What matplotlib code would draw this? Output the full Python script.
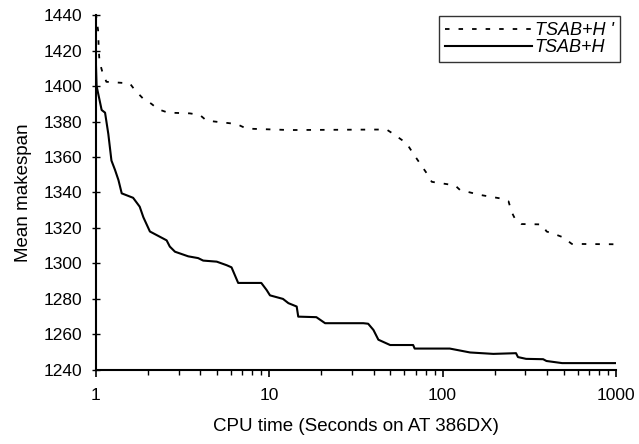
# CURVAS DE CONVERGENCIA: MEAN MAKESPAN VS CPU TIME
# DOS VARIANTES: TSAB+H' (PUNTEADA) Y TSAB+H (CONTINUA)

import numpy as np
import matplotlib.pyplot as plt

plt.rcParams['font.family'] = ['Liberation Sans', 'DejaVu Sans']

# DATOS

t_h = np.array([
    1.0, 1.01, 1.08, 1.13, 1.18, 1.23, 1.29, 1.35, 1.41, 1.64,
    1.79, 1.88, 2.05, 2.45, 2.56, 2.67, 2.86, 3.41, 3.89, 4.16,
    4.98, 5.68, 6.06, 6.62, 9.0, 9.66, 10.1, 12.0, 12.9, 14.4,
    14.7, 18.7, 21.0, 34.9, 37.2, 39.9, 42.6, 49.8, 67.6, 69.0,
    110, 144, 196, 265, 272, 303, 380, 397, 489, 1000
])

z_h = np.array([
    1414, 1400, 1386.5, 1385, 1373, 1358, 1352.7, 1347, 1339.5, 1337,
    1332, 1326, 1318, 1314, 1313, 1309.5, 1306.6, 1304, 1303, 1301.6,
    1301, 1299, 1297.8, 1289, 1289, 1285, 1282, 1280, 1277.6, 1275.7,
    1270, 1269.7, 1266.3, 1266.3, 1266, 1262.5, 1257, 1254, 1254, 1252,
    1252, 1249.8, 1249, 1249.4, 1247.2, 1246.2, 1246, 1245, 1243.8, 1243.8
])

t_hp = np.array([
    1.0, 1.03, 1.04, 1.05, 1.09, 1.15, 1.57, 1.68, 1.87, 2.09,
    2.29, 2.61, 3.48, 3.98, 4.35, 6.48, 7.4, 13.1, 47.5, 52,
    62, 67.6, 81, 86.6, 118, 126, 165, 214, 240, 250,
    262, 285, 373, 398, 457, 496, 556, 1000
])

z_hp = np.array([
    1441, 1431.5, 1420, 1413.7, 1408, 1402.4, 1401.5, 1397.7, 1393, 1390,
    1386.9, 1385, 1384.6, 1383.7, 1380.5, 1378.6, 1376, 1375.2, 1375.5, 1373,
    1367.7, 1362, 1350.8, 1346, 1344, 1341.4, 1338.6, 1336.7, 1335, 1329,
    1325, 1322.2, 1322, 1318, 1316, 1314.7, 1311, 1310.8
])

# GRAFICA

fig = plt.figure(figsize=(6.39, 4.44), dpi=100)
ax = fig.add_axes([0.150, 0.167, 0.814, 0.799])

ax.plot(
    t_hp,
    z_hp,
    color='black',
    linewidth=1.3,
    linestyle=(0, (2.5, 5)),
    label="TSAB+H '"
)

ax.plot(
    t_h,
    z_h,
    color='black',
    linewidth=1.5,
    label="TSAB+H"
)

# EJES

ax.set_xscale('log')
ax.set_xlim(1, 1000)
ax.set_ylim(1240, 1440)
ax.set_yticks(np.arange(1240, 1441, 20))
ax.set_xticks([1, 10, 100, 1000])
ax.set_xticklabels(["1", "10", "100", "1000"])

ax.spines['top'].set_visible(False)
ax.spines['right'].set_visible(False)
ax.spines['left'].set_linewidth(1.5)
ax.spines['bottom'].set_linewidth(1.5)

ax.tick_params(axis='y', direction='inout', length=6, width=1,
               labelsize=12.5, pad=7)
ax.tick_params(axis='x', which='major', direction='out', length=5, width=1.2,
               labelsize=12.5, pad=8)
ax.tick_params(axis='x', which='minor', direction='out', length=3.5, width=1)

ax.set_xlabel("CPU time (Seconds on AT 386DX)", fontsize=13.5, labelpad=11)
ax.set_ylabel("Mean makespan", fontsize=13.5, labelpad=8)

# LEYENDA

leg = ax.legend(
    loc='upper right',
    bbox_to_anchor=(1.008, 0.998),
    prop={'style': 'italic', 'size': 13},
    frameon=True,
    fancybox=False,
    edgecolor='black',
    handlelength=4.8,
    handletextpad=0.15,
    labelspacing=0.0,
    borderpad=0.35,
    borderaxespad=0.0
)
leg.get_frame().set_linewidth(1.0)

fig.savefig("out.png", dpi=100)
